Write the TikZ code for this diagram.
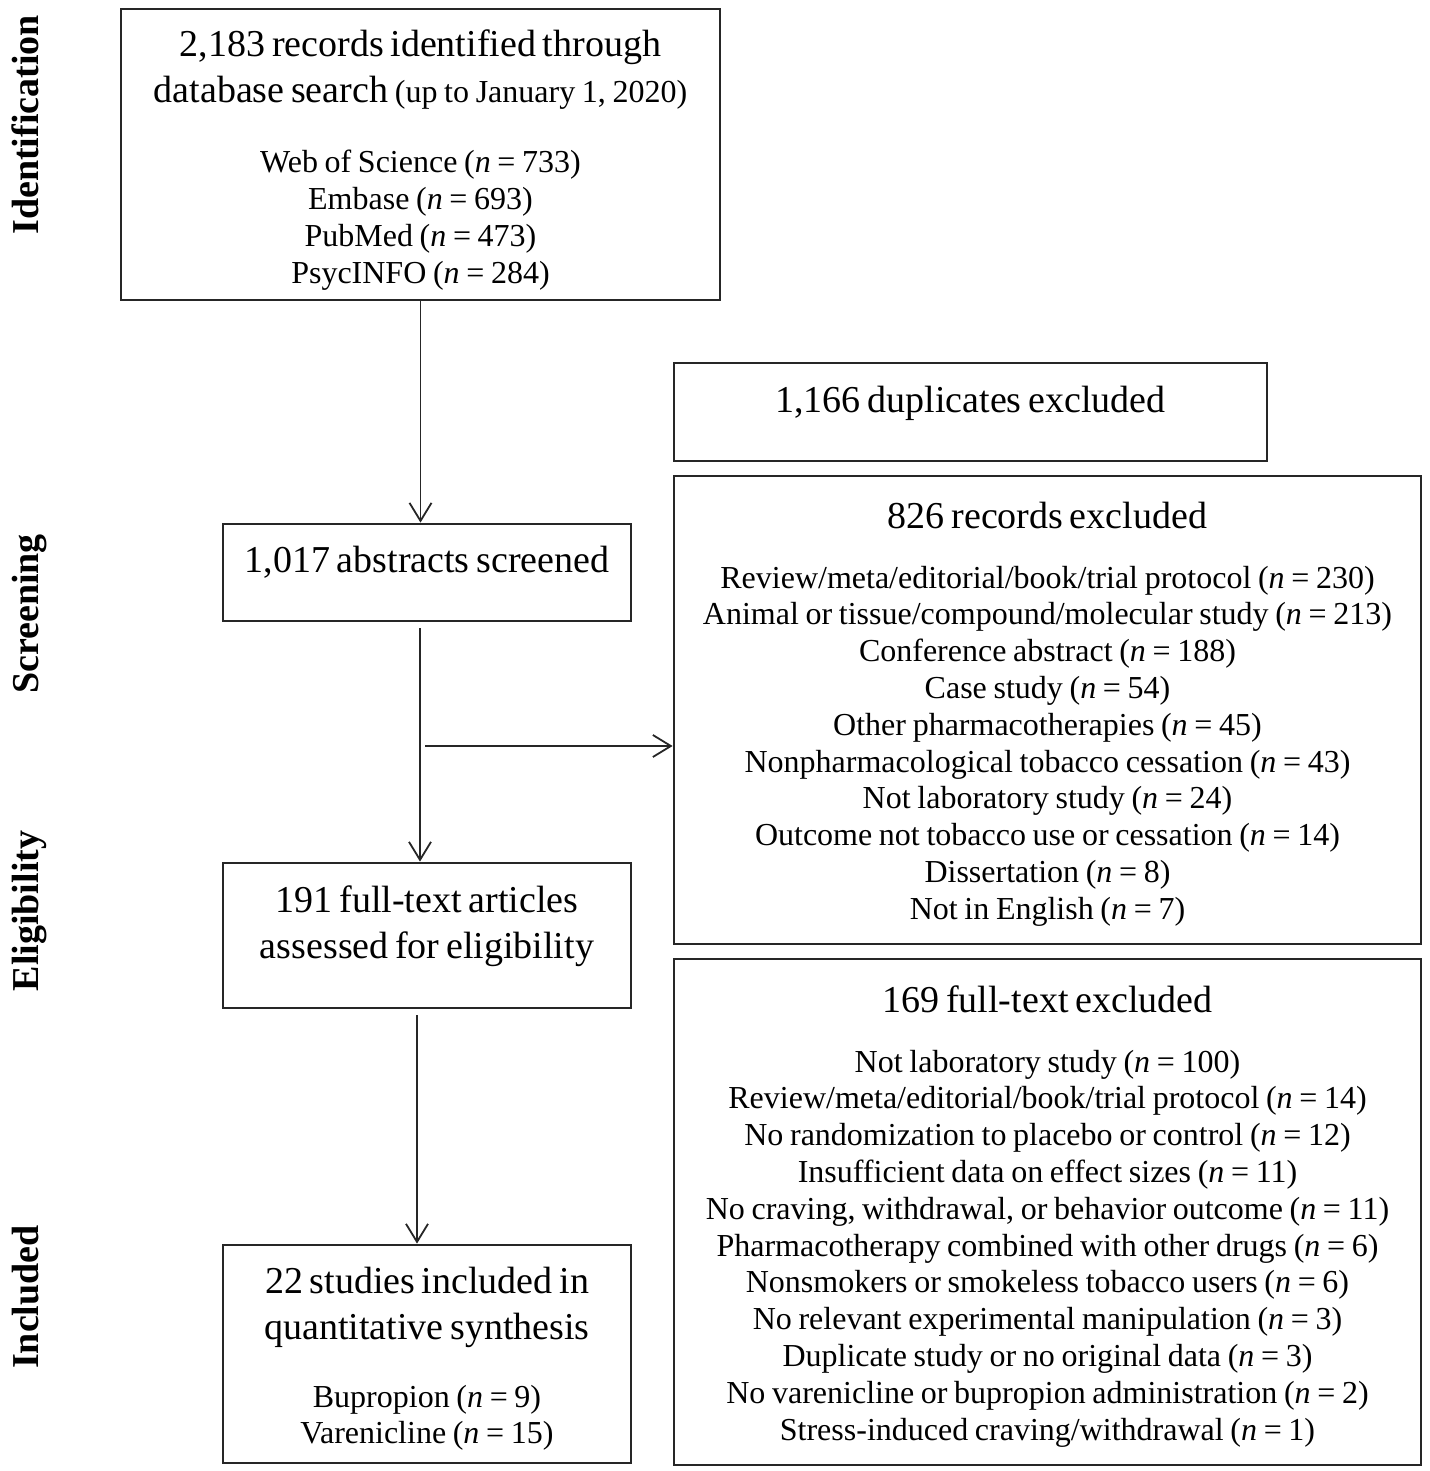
\documentclass[tikz,border=0pt]{standalone}
\usepackage{fontspec}
\setmainfont{Liberation Serif}
\usetikzlibrary{arrows.meta,positioning}
\newcommand{\headsize}{\fontsize{19}{23}\selectfont}
\newcommand{\listsize}{\fontsize{16}{18.4}\selectfont}

\begin{document}
\begin{tikzpicture}[x=0.5pt, y=-0.5pt,
  box/.style={draw=black!85, line width=1.4pt, rectangle, inner sep=0pt, align=center},
  phase/.style={rotate=90, font=\bfseries\headsize, text height=13.3pt, text depth=4.2pt, inner sep=0pt},
  arr/.style={draw=black!85, line width=0.9pt, -{Straight Barb[length=9pt,width=11pt]}}]
\useasboundingbox (0,0) rectangle (1429,1471);

% stage labels
\node[phase] (idlabel) at (29,125) {Identification};
\node[phase] (scrlabel) at (29,614) {Screening};
\node[phase] (eliglabel) at (29,911) {Eligibility};
\node[phase] (incllabel) at (29,1297) {Included};

% main column
\node[box, text width=299.5pt, text height=24pt, text depth=121.5pt] (search) at (420.5,154.5)
  {{\headsize 2,183 records identified through\\ database search {\listsize (up to January 1, 2020)}\par}
   \vspace{16.6pt}
   {\listsize Web of Science (\textit{n} = 733)\\ Embase (\textit{n} = 693)\\ PubMed (\textit{n} = 473)\\ PsycINFO (\textit{n} = 284)\par}};
\node[box, text width=204pt, text height=24pt, text depth=24.5pt] (abst) at (427,572.5)
  {\headsize 1,017 abstracts screened};
\node[box, text width=204pt, text height=24.5pt, text depth=48pt] (fulltext) at (427,935.5)
  {{\headsize 191 full-text articles\\ assessed for eligibility\par}};
\node[box, text width=204pt, text height=24pt, text depth=85pt] (synth) at (427,1354)
  {{\headsize 22 studies included in\\ quantitative synthesis\par}
   \vspace{15.6pt}
   {\listsize Bupropion (\textit{n} = 9)\\ Varenicline (\textit{n} = 15)\par}};

% exclusions
\node[box, text width=296.5pt, text height=24.5pt, text depth=24.5pt] (dupl) at (970.5,412)
  {\headsize 1,166 duplicates excluded};
\node[box, text width=373.5pt, text height=26pt, text depth=208pt] (recexcl) at (1047.5,710)
  {{\headsize 826 records excluded\par}
   \vspace{11.6pt}
   {\listsize Review/meta/editorial/book/trial protocol (\textit{n} = 230)\\
    Animal or tissue/compound/molecular study (\textit{n} = 213)\\
    Conference abstract (\textit{n} = 188)\\
    Case study (\textit{n} = 54)\\
    Other pharmacotherapies (\textit{n} = 45)\\
    Nonpharmacological tobacco cessation (\textit{n} = 43)\\
    Not laboratory study (\textit{n} = 24)\\
    Outcome not tobacco use or cessation (\textit{n} = 14)\\
    Dissertation (\textit{n} = 8)\\
    Not in English (\textit{n} = 7)\par}};
\node[box, text width=373.5pt, text height=26.5pt, text depth=226.5pt] (ftexcl) at (1047.5,1212)
  {{\headsize 169 full-text excluded\par}
   \vspace{11.6pt}
   {\listsize Not laboratory study (\textit{n} = 100)\\
    Review/meta/editorial/book/trial protocol (\textit{n} = 14)\\
    No randomization to placebo or control (\textit{n} = 12)\\
    Insufficient data on effect sizes (\textit{n} = 11)\\
    No craving, withdrawal, or behavior outcome (\textit{n} = 11)\\
    Pharmacotherapy combined with other drugs (\textit{n} = 6)\\
    Nonsmokers or smokeless tobacco users (\textit{n} = 6)\\
    No relevant experimental manipulation (\textit{n} = 3)\\
    Duplicate study or no original data (\textit{n} = 3)\\
    No varenicline or bupropion administration (\textit{n} = 2)\\
    Stress-induced craving/withdrawal (\textit{n} = 1)\par}};

% arrows
\coordinate (split) at (425,746);
\draw[arr] (search.south) -- (search.south |- abst.north);
\draw[arr] ([xshift=-3.5pt,yshift=-3pt]abst.south) -- ([xshift=-3.5pt]abst.south |- fulltext.north);
\draw[arr] ([xshift=-5pt,yshift=-3pt]fulltext.south) -- ([xshift=-5pt]fulltext.south |- synth.north);
\draw[arr] (split) -- (split -| recexcl.west);
\end{tikzpicture}
\end{document}
